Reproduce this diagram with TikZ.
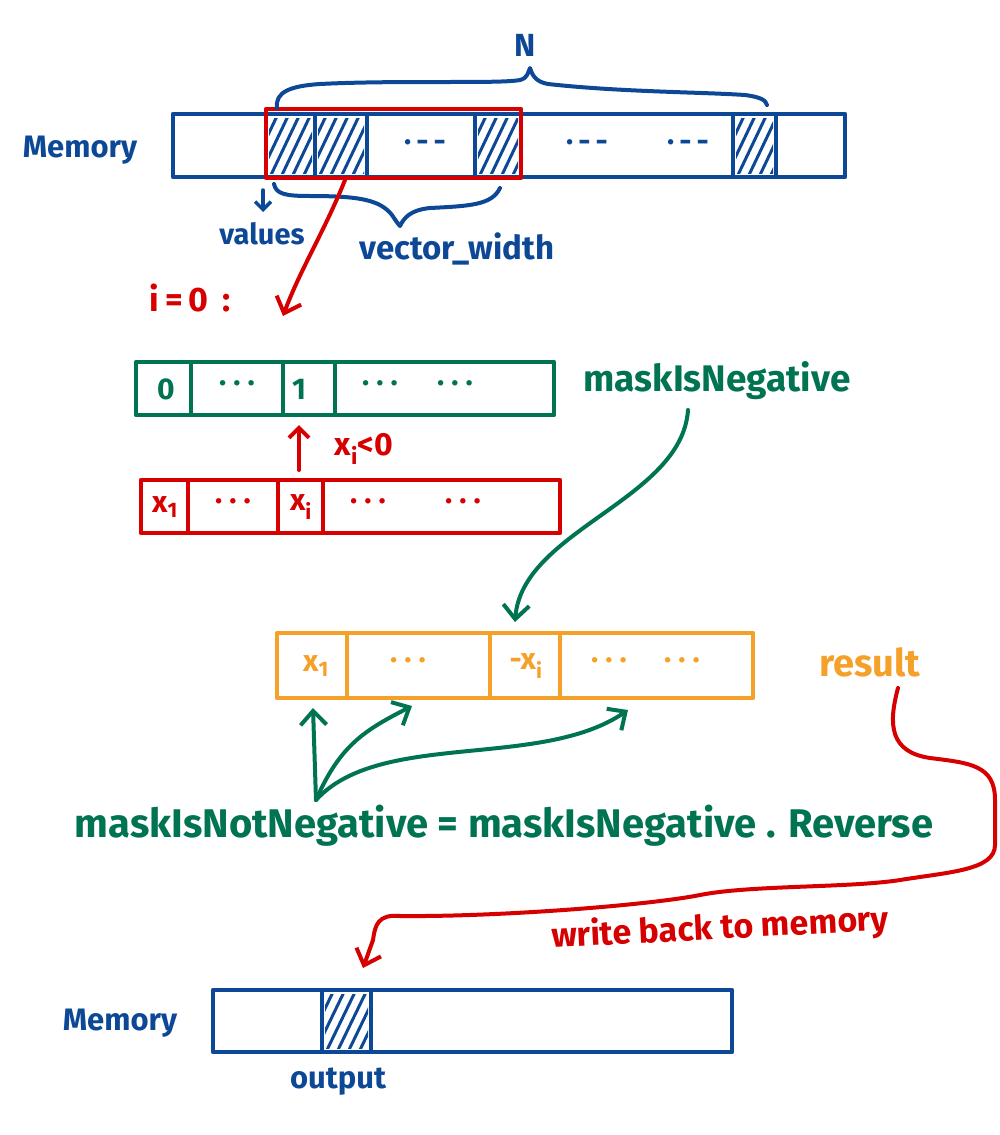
\documentclass[tikz,border=0pt]{standalone}
\usepackage{fontspec}
\setmainfont{Fira Sans}
\usetikzlibrary{arrows.meta}
\definecolor{cblue}{RGB}{12,72,150}
\definecolor{cred}{RGB}{215,0,0}
\definecolor{cgreen}{RGB}{0,115,82}
\definecolor{corange}{RGB}{245,160,40}
\newcommand\hatchcell[5]{%
  \begin{scope}
    \clip (#1+3,#2+4) rectangle (#3-3,#4-4);
    \foreach \k in {-40,-29,...,60} \draw[#5,line width=3pt] ({#1+\k},{#4}) -- ++(30,{#2-#4});
  \end{scope}}
\begin{document}
\begin{tikzpicture}[x=1pt,y=-1pt,line cap=round,line join=round,
  barbox/.style={draw,line width=4.5pt,inner sep=0pt,fill=none},
  divline/.style={line width=4pt},
  lbl/.style={inner sep=0pt,font=\bfseries\fontsize{32}{36}\selectfont},
  cell/.style={inner sep=0pt,font=\bfseries\fontsize{30}{34}\selectfont},
  barb/.style={-{Straight Barb[length=14pt,width=26pt,line width=4pt]},line width=4pt},
  brace/.style={cblue,line width=4pt}]
\useasboundingbox (0,0) rectangle (1000,1135);

% ---------- top memory ----------
\node[barbox,draw=cblue,minimum width=672pt,minimum height=63pt] (mem) at (509,145.5) {};
\foreach \xx in {315,367,475,733,776} \draw[cblue,divline] (\xx,114) -- (\xx,177);
\hatchcell{266}{114}{315}{177}{cblue}
\hatchcell{315}{114}{367}{177}{cblue}
\hatchcell{475}{114}{521}{177}{cblue}
\hatchcell{733}{114}{776}{177}{cblue}
\node[cell,text=cblue] (d1) at (425,146) {·\,-\,-};
\node[cell,text=cblue] (d2) at (587,146) {·\,-\,-};
\node[cell,text=cblue] (d3) at (688,146) {·\,-\,-};
\node[barbox,draw=cred,minimum width=255pt,minimum height=69pt] (redbox) at (393.5,143.5) {};
\node[lbl,text=cblue,font=\bfseries\fontsize{31}{36}\selectfont] (memlbl) at (80,150) {Memory};

% N brace
\draw[brace] (277,108) .. controls (275,92) and (290,86) .. (320,84)
  .. controls (400,80) and (500,84) .. (520,80) .. controls (528,78) and (528,72) .. (530,68)
  .. controls (532,75) and (536,82) .. (548,84) .. controls (620,92) and (700,92) .. (745,95)
  .. controls (760,97) and (766,100) .. (767,105);
\node[lbl,text=cblue] (nlbl) at (525,45) {N};

% vector_width brace
\draw[brace] (274,184) .. controls (276,194) and (285,196) .. (310,196)
  .. controls (360,196) and (380,200) .. (392,215) .. controls (396,221) and (398,224) .. (400,226)
  .. controls (404,218) and (410,210) .. (430,208) .. controls (470,206) and (492,205) .. (500,188);
\node[lbl,text=cblue,font=\bfseries\fontsize{33}{36}\selectfont] (vwlbl) at (457,249) {vector\_width};

% values
\coordinate (vtop) at (263,190);
\node[lbl,text=cblue,font=\bfseries\fontsize{29}{36}\selectfont] (vallbl) at (262,234) {values};
\draw[cblue,line width=3.5pt,-{Straight Barb[length=8pt,width=16pt,line width=3.5pt]}] (vtop) -- (263,212);

% i=0 arrow
\coordinate (ia) at (345,180);
\coordinate (ib) at (283,316);
\draw[cred,barb] (ia) .. controls (325,230) and (300,270) .. (ib);
\node[lbl,text=cred,font=\bfseries\fontsize{34}{36}\selectfont] (i0) at (190,298) {i\,=\,0\, :};

% ---------- green mask bar ----------
\node[barbox,draw=cgreen,minimum width=418pt,minimum height=53pt] (gbar) at (345,388.5) {};
\foreach \xx in {191,283,335} \draw[cgreen,divline] (\xx,362) -- (\xx,415);
\node[cell,text=cgreen] (g0) at (166,389) {0};
\node[cell,text=cgreen] (g2) at (237,387) {· · ·};
\node[cell,text=cgreen] (g1) at (299,389) {1};
\node[cell,text=cgreen] (g3) at (380,387) {· · ·};
\node[cell,text=cgreen] (g4) at (455,387) {· · ·};
\node[lbl,text=cgreen,font=\bfseries\fontsize{37}{40}\selectfont] (mneg) at (717,381) {maskIsNegative};

% ---------- red values bar ----------
\node[barbox,draw=cred,minimum width=419pt,minimum height=53pt] (rbar) at (350.5,506.5) {};
\foreach \xx in {188,278,323} \draw[cred,divline] (\xx,480) -- (\xx,533);
\node[cell,text=cred] (r1) at (165,507) {x\textsubscript{1}};
\node[cell,text=cred] (r2) at (233,505) {· · ·};
\node[cell,text=cred] (rxi) at (301,507) {x\textsubscript{i}};
\node[cell,text=cred] (r3) at (368,505) {· · ·};
\node[cell,text=cred] (r4) at (463,505) {· · ·};
\coordinate (ua) at (299,470);
\coordinate (ub) at (299,425);
\draw[cred,-{Straight Barb[length=10pt,width=20pt,line width=4pt]},line width=4pt] (ua) -- (ub);
\node[lbl,text=cred] (xlt) at (364,449) {x\textsubscript{i}<0};

% green curve to result
\coordinate (ma) at (688,410);
\coordinate (mb) at (515,622);
\draw[cgreen,barb] (ma) .. controls (682,500) and (522,530) .. (mb);

% ---------- orange result bar ----------
\node[barbox,draw=corange,minimum width=476pt,minimum height=65pt] (obar) at (515,665.5) {};
\foreach \xx in {347,490,560} \draw[corange,divline] (\xx,633) -- (\xx,698);
\node[cell,text=corange] (o1) at (316,666) {x\textsubscript{1}};
\node[cell,text=corange] (o2) at (408,664) {· · ·};
\node[cell,text=corange] (o3) at (526,666) {-x\textsubscript{i}};
\node[cell,text=corange] (o4) at (609,664) {· · ·};
\node[cell,text=corange] (o5) at (682,664) {· · ·};
\node[lbl,text=corange,font=\bfseries\fontsize{38}{40}\selectfont] (res) at (870,662) {result};

% green fan arrows
\coordinate (fs) at (316,800);
\coordinate (f1) at (313,708);
\coordinate (f2) at (412,706);
\coordinate (f3) at (628,710);
\draw[cgreen,barb] (fs) -- (f1);
\draw[cgreen,barb] (fs) .. controls (340,745) and (365,730) .. (f2);
\draw[cgreen,barb] (fs) .. controls (380,730) and (540,770) .. (f3);
\node[lbl,text=cgreen,font=\bfseries\fontsize{40}{44}\selectfont] (eqn) at (504,826) {maskIsNotNegative = maskIsNegative . Reverse};

% red write-back arrow
\coordinate (wa) at (898,688);
\coordinate (wb) at (363,968);
\draw[cred,barb] (wa) .. controls (888,725) and (890,752) .. (930,758)
  .. controls (970,763) and (995,765) .. (995,800) -- (995,845)
  .. controls (995,870) and (950,872) .. (900,880)
  .. controls (850,888) and (750,885) .. (700,895)
  .. controls (650,905) and (500,917) .. (400,916)
  .. controls (378,914) and (375,925) .. (373,940) -- (wb);
\node[lbl,text=cred,rotate=3,font=\bfseries\fontsize{34}{36}\selectfont] (wbl) at (720,929) {write back to memory};

% ---------- bottom memory ----------
\node[barbox,draw=cblue,minimum width=519pt,minimum height=62pt] (mem2) at (472.5,1021) {};
\foreach \xx in {322,371} \draw[cblue,divline] (\xx,990) -- (\xx,1052);
\hatchcell{322}{990}{371}{1052}{cblue}
\node[lbl,text=cblue,font=\bfseries\fontsize{31}{36}\selectfont] (memlbl2) at (120,1023) {Memory};
\node[lbl,text=cblue,font=\bfseries\fontsize{31}{36}\selectfont] (outlbl) at (338,1082) {output};
\end{tikzpicture}
\end{document}
